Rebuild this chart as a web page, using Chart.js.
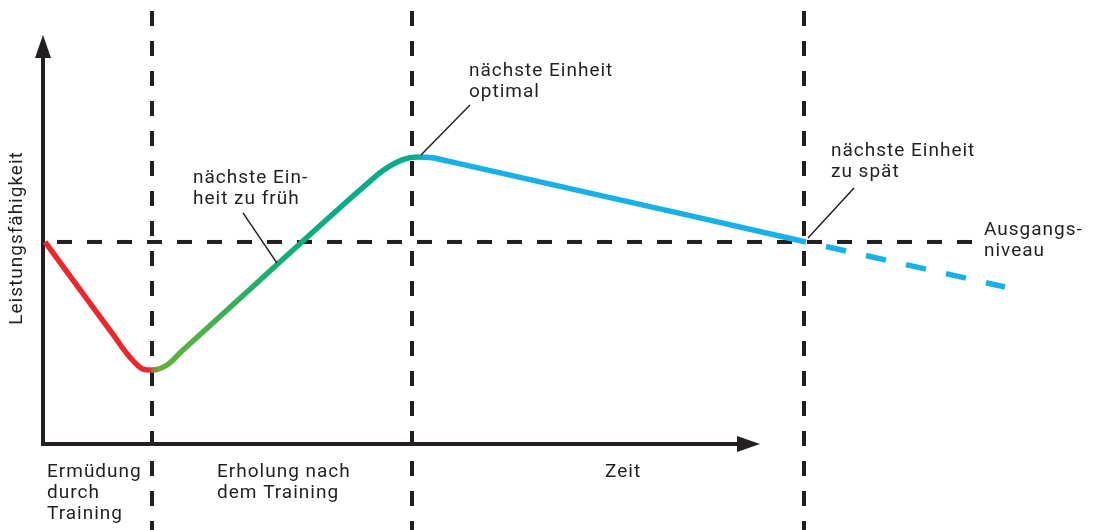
<!DOCTYPE html>
<html lang="de">
<head>
<meta charset="utf-8">
<title>Superkompensation</title>
<script src="https://cdn.jsdelivr.net/npm/chart.js@4.4.1/dist/chart.umd.min.js"></script>
<style>
  html, body { margin: 0; padding: 0; background: #fff; }
  #wrap { width: 1096px; height: 530px; position: relative; }
</style>
</head>
<body>
<div id="wrap"><canvas id="chart"></canvas></div>
<script>
// Zeit (t) and Leistungsfähigkeit (level); baseline = 100
const curveTime  = [0.2, 7.0, 8.5, 10.0, 10.9, 12.4, 14.0, 15.5, 30.5, 32.0, 34.0, 36.0, 37.4, 38.9, 40.5, 76.3];
const curveLevel = [100, 54.2, 44.1, 37.1, 36.6, 39.1, 46.5, 53.2, 120.5, 127.0, 135.4, 140.8, 142.1, 141.7, 140.0, 100];
// what happens when the next session comes too late
const lateTime  = [76.3, 96.2];
const lateLevel = [100, 77.7];

const baselineLevel = 100;
const baselineEnd = 93.3;
const phaseTimes = [10.9, 36.9, 76.1];
const xAxisEnd = 71.7;   // arrow tip of the time axis
const yAxisTop = 202.5;  // arrow tip of the performance axis

const yTitle = 'Leistungsfähigkeit';
const phaseLabels = [
  { t: 0.4,  lines: ['Ermüdung', 'durch', 'Training'] },
  { t: 17.4, lines: ['Erholung nach', 'dem Training'] },
  { t: 56.2, lines: ['Zeit'] }
];
const phaseLabelLevel = -16.3;

// callouts: text position and leader line (from, to) in data units
const notes = [
  { t: 15.0, v: 129.2, lines: ['nächste Ein-', 'heit zu früh'], from: [20.0, 114.4], to: [23.4, 89.5] },
  { t: 42.6, v: 182.2, lines: ['nächste Einheit', 'optimal'],    from: [42.7, 167.8], to: [37.8, 143.1] },
  { t: 78.8, v: 142.6, lines: ['nächste Einheit', 'zu spät'],    from: [81.1, 126.7], to: [76.5, 102.0] },
  { t: 94.1, v: 103.5, lines: ['Ausgangs-', 'niveau'] }
];

const ink = '#231f20';
const red = '#e9282e';
const green = '#55b045';
const teal = '#0aab8a';
const blue = '#19b0e8';
const FONT = '19px Roboto, "Noto Sans", sans-serif';
const LINE_H = 21;

function toPoints(xs, ys) {
  return xs.map((t, i) => ({ x: t, y: ys[i] }));
}

function curveColor(context) {
  const chart = context.chart;
  const area = chart.chartArea;
  if (!area) return blue;
  const xs = chart.scales.x;
  const w = area.right - area.left;
  const pos = (t) => Math.min(1, Math.max(0, (xs.getPixelForValue(t) - area.left) / w));
  const g = chart.ctx.createLinearGradient(area.left, 0, area.right, 0);
  g.addColorStop(0, red);
  g.addColorStop(pos(10.6), red);
  g.addColorStop(pos(11.0), '#9a7d3a');
  g.addColorStop(pos(11.8), '#62b03e');
  g.addColorStop(pos(15.0), green);
  g.addColorStop(pos(24.0), '#12ad78');
  g.addColorStop(pos(31.0), teal);
  g.addColorStop(pos(37.3), teal);
  g.addColorStop(pos(38.3), blue);
  g.addColorStop(1, blue);
  return g;
}

const diagramPlugin = {
  id: 'diagram',
  beforeDatasetsDraw(chart) {
    const { ctx, chartArea, scales: { x, y } } = chart;
    ctx.save();
    ctx.strokeStyle = ink;
    ctx.fillStyle = ink;
    ctx.lineWidth = 4;
    ctx.lineCap = 'butt';

    // phase boundaries
    ctx.setLineDash([15, 15]);
    phaseTimes.forEach((t) => {
      const px = Math.round(x.getPixelForValue(t));
      ctx.beginPath();
      ctx.moveTo(px, chartArea.top + 11);
      ctx.lineTo(px, chartArea.bottom);
      ctx.stroke();
    });

    // Ausgangsniveau
    const by = y.getPixelForValue(baselineLevel);
    const x0 = x.getPixelForValue(0);
    ctx.lineDashOffset = 16;
    ctx.beginPath();
    ctx.moveTo(x0, by);
    ctx.lineTo(x.getPixelForValue(baselineEnd), by);
    ctx.stroke();
    ctx.setLineDash([]);
    ctx.lineDashOffset = 0;

    // axes with arrow heads
    const y0 = y.getPixelForValue(0);
    const yTip = y.getPixelForValue(yAxisTop);
    const xTip = x.getPixelForValue(xAxisEnd);
    ctx.beginPath();
    ctx.moveTo(x0, y0 + 2);
    ctx.lineTo(x0, yTip + 22);
    ctx.moveTo(x0 - 2, y0);
    ctx.lineTo(xTip - 22, y0);
    ctx.stroke();
    ctx.beginPath();
    ctx.moveTo(x0, yTip);
    ctx.lineTo(x0 - 8, yTip + 23);
    ctx.lineTo(x0 + 8, yTip + 23);
    ctx.closePath();
    ctx.fill();
    ctx.beginPath();
    ctx.moveTo(xTip, y0);
    ctx.lineTo(xTip - 23, y0 - 8);
    ctx.lineTo(xTip - 23, y0 + 8);
    ctx.closePath();
    ctx.fill();
    ctx.restore();
  },
  afterDatasetsDraw(chart) {
    const { ctx, scales: { x, y } } = chart;
    ctx.save();
    ctx.fillStyle = ink;
    ctx.strokeStyle = ink;
    ctx.font = FONT;
    ctx.letterSpacing = '1px';
    ctx.textBaseline = 'alphabetic';
    ctx.textAlign = 'left';

    const writeLines = (lines, px, py) => {
      lines.forEach((s, i) => ctx.fillText(s, px, py + i * LINE_H));
    };

    phaseLabels.forEach((p) => {
      writeLines(p.lines, x.getPixelForValue(p.t), y.getPixelForValue(phaseLabelLevel));
    });

    ctx.lineWidth = 1.5;
    notes.forEach((n) => {
      writeLines(n.lines, x.getPixelForValue(n.t), y.getPixelForValue(n.v));
      if (n.from) {
        ctx.beginPath();
        ctx.moveTo(x.getPixelForValue(n.from[0]), y.getPixelForValue(n.from[1]));
        ctx.lineTo(x.getPixelForValue(n.to[0]), y.getPixelForValue(n.to[1]));
        ctx.stroke();
      }
    });

    // rotated axis title
    ctx.translate(22, y.getPixelForValue(baselineLevel) - 4);
    ctx.rotate(-Math.PI / 2);
    ctx.textAlign = 'center';
    ctx.fillText(yTitle, 0, 0);
    ctx.restore();
  }
};

new Chart(document.getElementById('chart'), {
  type: 'line',
  data: {
    datasets: [
      {
        label: 'Leistungsfähigkeit',
        data: toPoints(curveTime, curveLevel),
        borderColor: curveColor,
        borderWidth: 5.5,
        cubicInterpolationMode: 'monotone',
        pointRadius: 0,
        borderCapStyle: 'butt',
        fill: false
      },
      {
        label: 'zu spät',
        data: toPoints(lateTime, lateLevel),
        borderColor: blue,
        borderWidth: 5.5,
        borderDash: [20.5, 20.5],
        borderDashOffset: 20.5,
        pointRadius: 0,
        fill: false
      }
    ]
  },
  options: {
    responsive: true,
    maintainAspectRatio: false,
    animation: false,
    layout: { padding: 0 },
    plugins: {
      legend: { display: false },
      tooltip: { enabled: false }
    },
    scales: {
      x: { type: 'linear', min: -4.3, max: 105.3, display: false },
      y: { type: 'linear', min: -42.6, max: 219.8, display: false }
    }
  },
  plugins: [diagramPlugin]
});
</script>
</body>
</html>
